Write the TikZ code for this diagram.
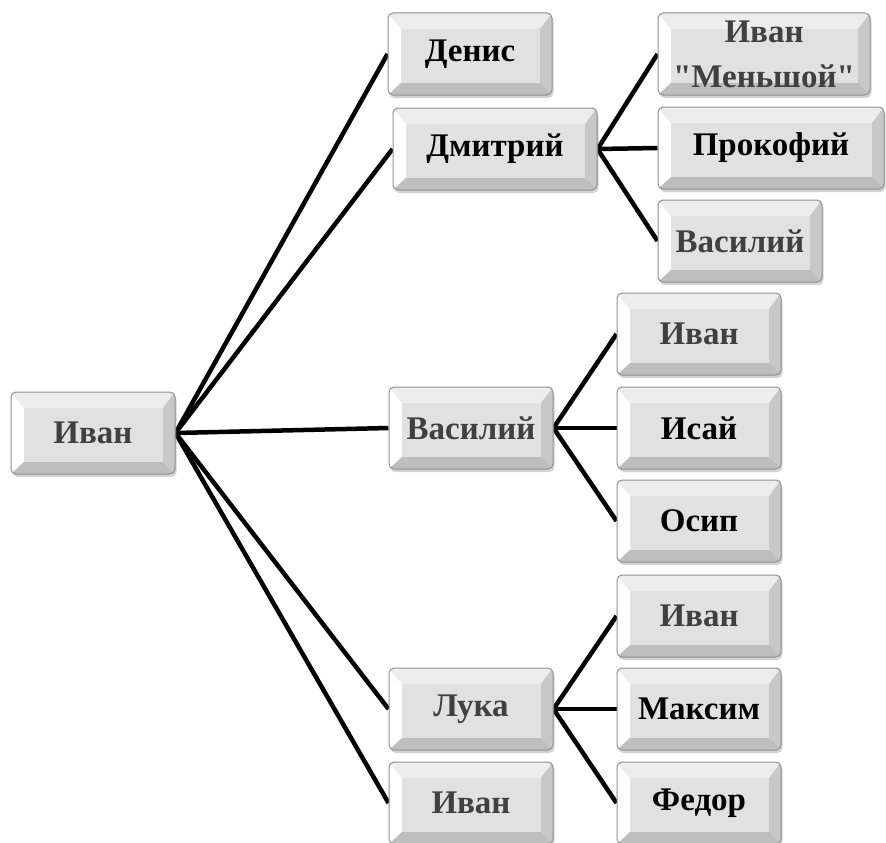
\documentclass[tikz,border=0pt]{standalone}
\usepackage{fontspec}
\setmainfont{Liberation Serif}[Ligatures=TeXOff]
\usepackage{tikz}
\usetikzlibrary{backgrounds,calc,shadows}

\definecolor{boxface}{HTML}{E1E1E1}
\definecolor{boxedge}{HTML}{909090}
\definecolor{bevel_top}{HTML}{EDEDED}
\definecolor{bevel_right}{HTML}{C8C8C8}
\definecolor{bevel_bottom}{HTML}{BEBEBE}
\definecolor{namegray}{HTML}{404040}

% biselado de las cajas
\newcommand\boxbevel{
	\fill[white, sharp corners] (path picture bounding box.north west) -- (path picture bounding box.south west)
		-- ([shift={(13pt,12pt)}]path picture bounding box.south west) -- ([shift={(13pt,-16pt)}]path picture bounding box.north west) -- cycle;
	\fill[bevel_top, sharp corners] (path picture bounding box.north west) -- (path picture bounding box.north east)
		-- ([shift={(-12pt,-16pt)}]path picture bounding box.north east) -- ([shift={(13pt,-16pt)}]path picture bounding box.north west) -- cycle;
	\fill[bevel_right, sharp corners] (path picture bounding box.north east) -- (path picture bounding box.south east)
		-- ([shift={(-12pt,12pt)}]path picture bounding box.south east) -- ([shift={(-12pt,-16pt)}]path picture bounding box.north east) -- cycle;
	\fill[bevel_bottom, sharp corners] (path picture bounding box.south west) -- (path picture bounding box.south east)
		-- ([shift={(-12pt,12pt)}]path picture bounding box.south east) -- ([shift={(13pt,12pt)}]path picture bounding box.south west) -- cycle;
}

\begin{document}
\begin{tikzpicture}[x = 1pt, y = -1pt,
every node/.style = {font = \fontsize{33}{45}\selectfont\bfseries}]

\tikzset{
	name_box/.style = {
		rectangle, rounded corners = 5pt, draw = boxedge, line width = 1pt,
		fill = boxface, minimum width = 164pt, minimum height = 82pt,
		inner sep = 0pt, align = center, text = black,
		drop shadow = {shadow xshift = 1.5pt, shadow yshift = -3pt, opacity = 0.35, fill = gray},
		path picture = {\boxbevel}
	},
	gray_name/.style = {
		name_box, text = namegray
	},
	branch/.style = {
		draw = black, line width = 4.5pt
	}
}

\useasboundingbox (0,0) rectangle (886,843);

\node[gray_name] (Root) at (93,433) {Иван}; % Raíz
% Nivel 1
\node[name_box] (Denis) at (470,54) {Денис};
\node[name_box, minimum width = 204pt] (Dmitry) at (495,149) {Дмитрий};
\node[gray_name] (Vasily) at (471,428) {Василий};
\node[gray_name] (Luka) at (471,709) {Лука};
\node[gray_name] (IvanY) at (471,803) {Иван};
% Nivel 2
\node[gray_name, minimum width = 212pt] (IvanM) at (764,54) {Иван\\"Меньшой"};
\node[name_box, minimum width = 226pt] (Prokofy) at (771,148) {Прокофий};
\node[gray_name] (VasilyD) at (740,241) {Василий};
\node[gray_name] (IvanV) at (699,334) {Иван};
\node[name_box] (Isay) at (699,428) {Исай};
\node[name_box] (Osip) at (699,521) {Осип};
\node[gray_name] (IvanL) at (699,616) {Иван};
\node[name_box] (Maksim) at (699,709) {Максим};
\node[name_box] (Fedor) at (699,803) {Федор};

\begin{pgfonlayer}{background}
\foreach \son in {Denis, Dmitry, Vasily, Luka, IvanY}
	\draw[branch] (Root.east) -- (\son.west);
\foreach \son in {IvanM, Prokofy, VasilyD}
	\draw[branch] (Dmitry.east) -- (\son.west);
\foreach \son in {IvanV, Isay, Osip}
	\draw[branch] (Vasily.east) -- (\son.west);
\foreach \son in {IvanL, Maksim, Fedor}
	\draw[branch] (Luka.east) -- (\son.west);
\end{pgfonlayer}
\end{tikzpicture}
\end{document}
